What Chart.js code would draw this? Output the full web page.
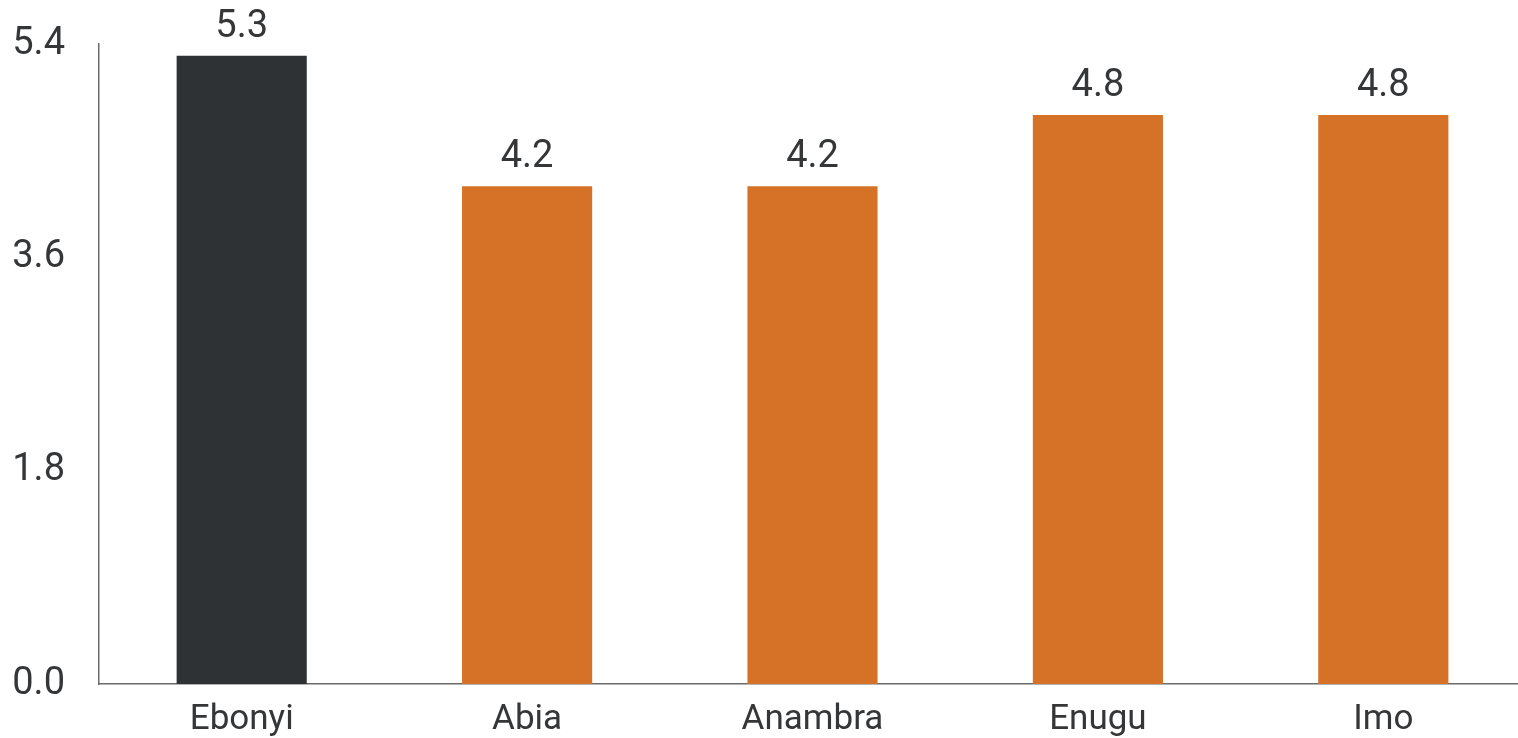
<!DOCTYPE html>
<html>
<head>
<meta charset="utf-8">
<script src="https://cdn.jsdelivr.net/npm/chart.js@4"></script>
<style>
  html, body { margin: 0; padding: 0; background: #fff; overflow: hidden; }
  .chart-wrap { position: relative; width: 1526px; height: 738px; }
</style>
</head>
<body>
<div class="chart-wrap"><canvas id="bars"></canvas></div>
<script>
/* ======================================================================
Data
====================================================================== */
const states = ['Ebonyi', 'Abia', 'Anambra', 'Enugu', 'Imo'];
const values = [5.3, 4.2, 4.2, 4.8, 4.8];
const yTicks = [0, 1.8, 3.6, 5.4];

/* ======================================================================
Styles
====================================================================== */
const darkBar = '#2f3235';
const orangeBar = '#d57228';
const textColor = '#343638';
const axisColor = '#6b6b6b';
const fontFamily = 'Roboto, "Liberation Sans", sans-serif';
const numberSize = 38;
const labelSize = 35;

Chart.defaults.font.family = fontFamily;
Chart.defaults.color = textColor;

// value labels above each bar
const valueLabels = {
  id: 'valueLabels',
  afterDatasetsDraw(chart) {
    const ctx = chart.ctx;
    const meta = chart.getDatasetMeta(0);
    ctx.save();
    ctx.font = numberSize + 'px ' + fontFamily;
    ctx.fillStyle = textColor;
    ctx.textAlign = 'center';
    ctx.textBaseline = 'alphabetic';
    meta.data.forEach((bar, i) => {
      ctx.fillText(values[i].toFixed(1), bar.x, bar.y - 19);
    });
    ctx.restore();
  }
};

/* ======================================================================
Chart
====================================================================== */
const barCanvas = document.getElementById('bars');

new Chart(barCanvas, {
  type: 'bar',
  data: {
    labels: states,
    datasets: [{
      data: values,
      backgroundColor: states.map((s, i) => i === 0 ? darkBar : orangeBar),
      categoryPercentage: 1,
      barPercentage: 0.456
    }]
  },
  options: {
    responsive: true,
    maintainAspectRatio: false,
    animation: false,
    layout: { padding: { top: 44, left: 0, right: 0, bottom: 0 } },
    plugins: {
      legend: { display: false },
      tooltip: { enabled: false }
    },
    scales: {
      x: {
        grid: { display: false, drawTicks: false },
        border: { display: true, color: axisColor, width: 1.5 },
        ticks: { font: { size: labelSize }, padding: 15 },
        afterFit(axis) { axis.height = 54; }
      },
      y: {
        min: 0,
        max: 5.4,
        afterBuildTicks(axis) { axis.ticks = yTicks.map(v => ({ value: v })); },
        grid: { display: false, drawTicks: false },
        border: { display: true, color: axisColor, width: 1.5 },
        ticks: {
          font: { size: numberSize, lineHeight: 0.2 },
          padding: 34,
          callback: v => Number(v).toFixed(1)
        },
        afterFit(axis) { axis.width = 99; }
      }
    }
  },
  plugins: [valueLabels]
});
</script>
</body>
</html>
